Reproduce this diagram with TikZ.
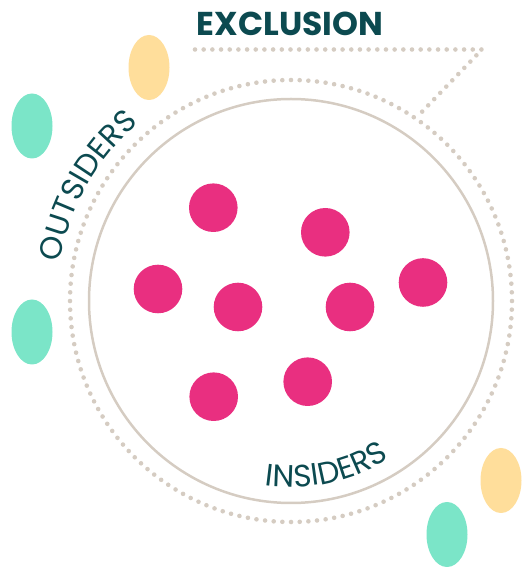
\documentclass[tikz,border=0pt]{standalone}
\usepackage{fontspec}
\setmainfont{Poppins}
\usetikzlibrary{shapes.geometric,decorations.text}
\definecolor{pinkdot}{HTML}{E92F80}
\definecolor{tealoval}{HTML}{7BE5C8}
\definecolor{yellowoval}{HTML}{FFDE9B}
\definecolor{ringbeige}{HTML}{D5CCC2}
\definecolor{darkteal}{HTML}{0C4A50}
\newcommand\arclabelfont{\fontsize{31}{31}\selectfont}
\begin{document}
\begin{tikzpicture}[x=1pt,y=1pt,
  member/.style={circle, fill=pinkdot, minimum size=48.6pt, inner sep=0pt},
  outsider/.style={ellipse, minimum width=41pt, minimum height=65pt, inner sep=0pt},
  dotline/.style={draw=ringbeige, line width=4.6pt, line cap=round, dash pattern=on 0pt off 8.68pt},
  arclabel/.style={decorate, decoration={text along path, text color=darkteal, text align=center}}]
\useasboundingbox (0,0) rectangle (523,568);
\coordinate (C) at (291,267);
% rings
\node[circle, draw=ringbeige, line width=2.5pt, minimum size=404pt, inner sep=0pt] (inner) at (C) {};
\node[circle, dotline, minimum size=442pt, inner sep=0pt] (outer) at (C) {};
% title and its dotted pointer
\node[anchor=base, text=darkteal, font=\bfseries\fontsize{33}{33}\selectfont] (title) at (290,532) {EXCLUSION};
\coordinate (p1) at (195,518.5);
\coordinate (p2) at (482,518.5);
\coordinate (p3) at (417,451);
\draw[dotline] (p1) -- (p2) -- (p3);
% outsiders
\node[outsider, fill=yellowoval] (y1) at (149,500.5) {};
\node[outsider, fill=tealoval] (t1) at (32,442) {};
\node[outsider, fill=tealoval] (t2) at (32,236) {};
\node[outsider, fill=yellowoval] (y2) at (501,87.5) {};
\node[outsider, fill=tealoval] (t3) at (447,33.5) {};
% insiders
\node[member] (m1) at (213.3,360.3) {};
\node[member] (m2) at (325.3,335.7) {};
\node[member] (m3) at (158,279) {};
\node[member] (m4) at (238,261) {};
\node[member] (m5) at (350,261) {};
\node[member] (m6) at (423,285.5) {};
\node[member] (m7) at (213.7,171.3) {};
\node[member] (m8) at (307.7,186.3) {};
% curved labels
\path[arclabel, decoration={text={|\arclabelfont|OUTSIDERS}}]
  ([shift={(180:234)}]C) arc[start angle=180, end angle=121, radius=234];
\path[arclabel, decoration={text={|\arclabelfont|INSIDERS}}]
  ([shift={(252:186)}]C) arc[start angle=252, end angle=312, radius=186];
\end{tikzpicture}
\end{document}
